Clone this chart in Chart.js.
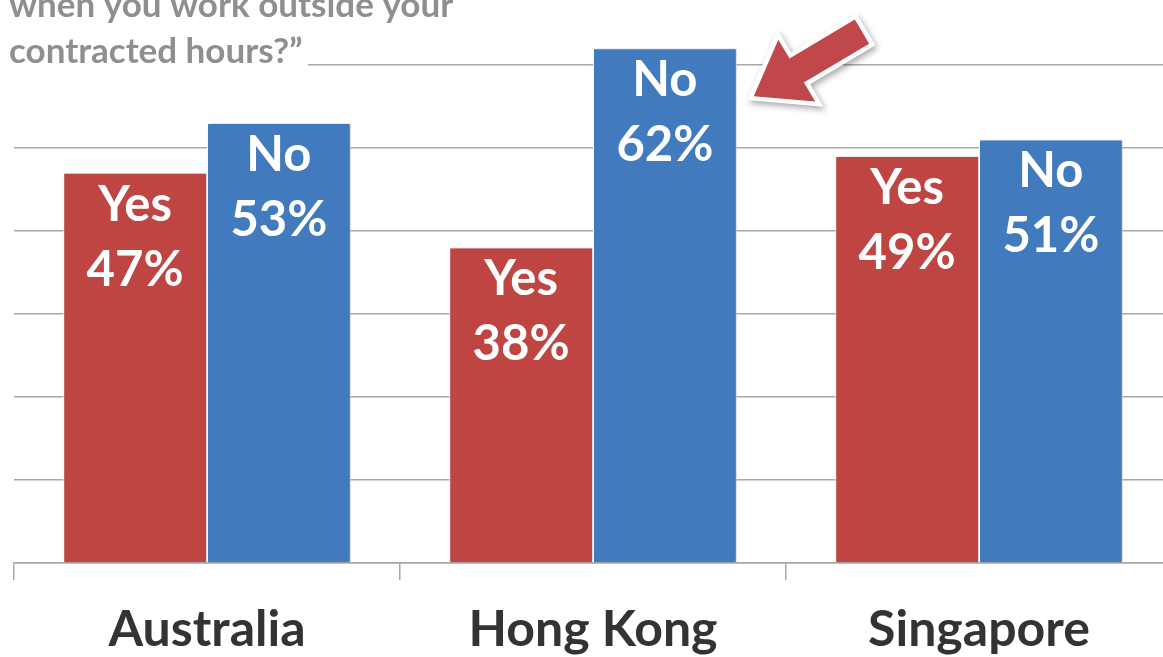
<!DOCTYPE html>
<html>
<head>
<meta charset="utf-8">
<script src="https://cdn.jsdelivr.net/npm/chart.js@4/dist/chart.umd.min.js"></script>
<style>
  html, body { margin: 0; padding: 0; background: #fff; overflow: hidden; }
  #wrap { position: relative; width: 1172px; height: 657px; }
</style>
</head>
<body>
<div id="wrap"><canvas id="chart"></canvas></div>
<script>
const categories = ['Australia', 'Hong Kong', 'Singapore']
const seriesNames = ['Yes', 'No']
const yesValues = [47, 38, 49]
const noValues = [53, 62, 51]
const titleLines = ['when you work outside your', 'contracted hours?\u201d']

const yesColor = '#BF4542'
const noColor = '#417BBD'
const gridColor = '#a8a8a8'
const labelFont = 'Lato, "Open Sans", sans-serif'

const barShadow = {
  id: 'barShadow',
  beforeDatasetsDraw(chart) {
    const ctx = chart.ctx
    ctx.save()
    ctx.shadowColor = 'rgba(0, 0, 0, 0.22)'
    ctx.shadowBlur = 4
    ctx.shadowOffsetX = 2
    ctx.shadowOffsetY = 0
  },
  afterDatasetsDraw(chart) {
    chart.ctx.restore()
  },
}

const barLabels = {
  id: 'barLabels',
  afterDatasetsDraw(chart) {
    const ctx = chart.ctx
    ctx.save()
    ctx.fillStyle = '#ffffff'
    ctx.textAlign = 'center'
    ctx.textBaseline = 'middle'
    ctx.font = 'bold 49px ' + labelFont
    chart.data.datasets.forEach((ds, i) => {
      chart.getDatasetMeta(i).data.forEach((bar, j) => {
        ctx.fillText(ds.label, bar.x, bar.y + 32)
        ctx.fillText(ds.data[j] + '%', bar.x, bar.y + 97)
      })
    })
    ctx.restore()
  },
}

const extras = {
  id: 'extras',
  afterDraw(chart) {
    const ctx = chart.ctx
    // question text, top-left (cropped)
    ctx.save()
    ctx.fillStyle = '#ffffff'
    ctx.fillRect(0, 0, 308, 72)
    ctx.fillStyle = '#8f8f8f'
    ctx.font = 'bold 35px ' + labelFont
    ctx.textBaseline = 'alphabetic'
    ctx.fillText(titleLines[0], 9, 17)
    ctx.fillText(titleLines[1], 9, 63)
    ctx.restore()

    // arrow pointing at Hong Kong "No"
    const bar = chart.getDatasetMeta(1).data[1]
    const tipX = bar.x + bar.width / 2 + 17
    const tipY = bar.y + 48
    const ang = Math.atan2(-65, 109)
    ctx.save()
    ctx.translate(tipX, tipY)
    ctx.rotate(ang)
    ctx.beginPath()
    ctx.moveTo(0, 0)
    ctx.lineTo(50, -36)
    ctx.lineTo(50, -14)
    ctx.lineTo(126, -14)
    ctx.lineTo(126, 14)
    ctx.lineTo(50, 14)
    ctx.lineTo(50, 36)
    ctx.closePath()
    ctx.shadowColor = 'rgba(0, 0, 0, 0.35)'
    ctx.shadowBlur = 6
    ctx.shadowOffsetX = 2
    ctx.shadowOffsetY = 3
    ctx.lineJoin = 'miter'
    ctx.strokeStyle = '#ffffff'
    ctx.lineWidth = 9
    ctx.stroke()
    ctx.shadowColor = 'transparent'
    ctx.fillStyle = '#C0474A'
    ctx.fill()
    ctx.restore()
  },
}

new Chart(document.getElementById('chart'), {
  type: 'bar',
  data: {
    labels: categories,
    datasets: [
      {
        label: seriesNames[0],
        data: yesValues,
        backgroundColor: yesColor,
        borderColor: '#ffffff',
        borderWidth: 1,
        categoryPercentage: 0.745,
        barPercentage: 1,
      },
      {
        label: seriesNames[1],
        data: noValues,
        backgroundColor: noColor,
        borderColor: '#ffffff',
        borderWidth: 1,
        categoryPercentage: 0.745,
        barPercentage: 1,
      },
    ],
  },
  options: {
    responsive: true,
    maintainAspectRatio: false,
    animation: false,
    layout: { padding: { left: 14, top: 0, right: 0, bottom: 0 } },
    plugins: {
      legend: { display: false },
      tooltip: { enabled: false },
    },
    scales: {
      x: {
        afterFit: (scale) => {
          scale.height = 94
        },
        grid: {
          color: gridColor,
          lineWidth: 1.5,
          drawOnChartArea: false,
          drawTicks: true,
          tickLength: 17,
          offset: true,
        },
        border: { color: gridColor, width: 1.5 },
        ticks: {
          color: '#333333',
          padding: 20,
          font: { family: labelFont, size: 50, weight: 'bold' },
        },
      },
      y: {
        min: 0,
        max: 67.8,
        afterBuildTicks: (scale) => {
          scale.ticks = scale.ticks.filter((t) => t.value % 10 === 0)
        },
        ticks: { display: false, stepSize: 10 },
        grid: { color: gridColor, lineWidth: 1.5, drawTicks: false },
        border: { display: false },
      },
    },
  },
  plugins: [barShadow, barLabels, extras],
})
</script>
</body>
</html>
